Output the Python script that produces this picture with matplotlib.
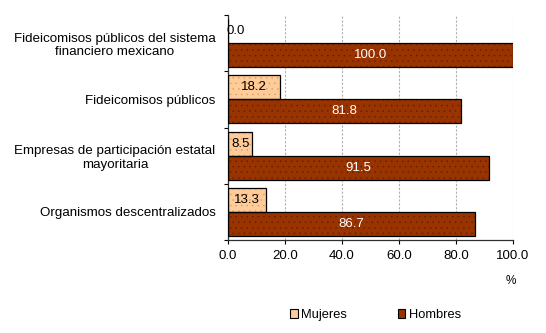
import matplotlib
matplotlib.use("Agg")
import matplotlib.pyplot as plt
import numpy as np
from matplotlib.patches import Patch

plt.rcParams["font.family"] = ["Liberation Sans", "DejaVu Sans"]
plt.rcParams["hatch.linewidth"] = 0.3

# Share of staff by sex per entity type (%), top to bottom.
CATEGORIES = [
    "Fideicomisos públicos del sistema\nfinanciero mexicano",
    "Fideicomisos públicos",
    "Empresas de participación estatal\nmayoritaria",
    "Organismos descentralizados",
]
MUJERES = [0.0, 18.2, 8.5, 13.3]
HOMBRES = [100.0, 81.8, 91.5, 86.7]
XTICKS = [0, 20, 40, 60, 80, 100]

C_MUJ = "#FFCC99"
C_HOM = "#993300"

fig = plt.figure(figsize=(5.46, 3.33), dpi=100)
ax = fig.add_axes([0.4176, 0.279, 0.522, 0.676])

y = np.arange(len(CATEGORIES))
h = 0.425

# fill + fine dotted texture, then a separate pass for the black outline
for vals, off, col, dot in [(MUJERES, -h / 2, C_MUJ, "#d99a60"),
                            (HOMBRES, h / 2, C_HOM, "#5e1f00")]:
    ax.barh(y + off, vals, height=h, color=col, edgecolor=dot,
            hatch="...", linewidth=0, zorder=2)
    ax.barh(y + off, vals, height=h, facecolor="none", edgecolor="black",
            linewidth=0.9, zorder=3)

for i, v in enumerate(MUJERES):
    ax.text(max(v / 2, 2.6), i - h / 2, f"{v:.1f}", ha="center",
            va="center", fontsize=9.5, color="black", zorder=4)
for i, v in enumerate(HOMBRES):
    ax.text(v / 2, i + h / 2, f"{v:.1f}", ha="center", va="center",
            fontsize=9.5, color="white", zorder=4)

ax.set_xlim(0, 100)
ax.set_ylim(len(CATEGORIES) - 0.5, -0.5)
ax.set_xticks(XTICKS)
ax.set_xticklabels([f"{t:.1f}" for t in XTICKS], fontsize=9.5)
ax.set_yticks(y)
ax.set_yticklabels(CATEGORIES, fontsize=9.6, multialignment="center")
ax.tick_params(axis="y", length=0, pad=9)
ax.set_yticks(np.arange(len(CATEGORIES) + 1) - 0.5, minor=True)
ax.tick_params(axis="y", which="minor", length=3, width=0.8)
ax.tick_params(axis="x", length=3, width=0.8, pad=4)

ax.grid(axis="x", color="#b0b0b0", linestyle=(0, (2, 1.5)), linewidth=0.8,
        zorder=0)
for s in ("top", "right"):
    ax.spines[s].set_visible(False)
for s in ("left", "bottom"):
    ax.spines[s].set_color("#303030")
    ax.spines[s].set_linewidth(0.9)

fig.text(0.936, 0.155, "%", fontsize=8.5, ha="center", va="center")

handles = [Patch(facecolor=C_MUJ, edgecolor="black", linewidth=0.8),
           Patch(facecolor=C_HOM, edgecolor="black", linewidth=0.8)]
fig.legend(handles, ["Mujeres", "Hombres"], loc="center",
           bbox_to_anchor=(0.688, 0.054), ncol=2, frameon=False,
           fontsize=9.3, handlelength=0.6, handleheight=0.6,
           handletextpad=0.25, columnspacing=3.9)

fig.savefig("out.png", dpi=100, facecolor="white")
